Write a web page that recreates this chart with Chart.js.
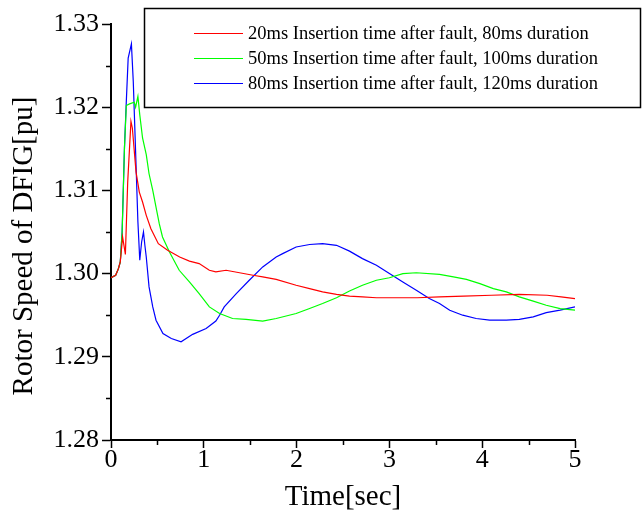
<!DOCTYPE html>
<html>
<head>
<meta charset="utf-8">
<script src="https://cdn.jsdelivr.net/npm/chart.js@4/dist/chart.umd.min.js"></script>
<style>
  html, body { margin: 0; padding: 0; background: #ffffff; }
  #wrap { width: 644px; height: 514px; }
</style>
</head>
<body>
<div id="wrap"><canvas id="c" width="644" height="514"></canvas></div>
<script>
// ---- data ----
const seriesLabels = [
  '20ms Insertion time after fault, 80ms duration',
  '50ms Insertion time after fault, 100ms duration',
  '80ms Insertion time after fault, 120ms duration'
];
const xTitle = 'Time[sec]';
const yTitle = 'Rotor Speed of DFIG[pu]';
const xTicks = [0, 1, 2, 3, 4, 5];
const xMinorTicks = [0.5, 1.5, 2.5, 3.5, 4.5];
const yTicks = [1.28, 1.29, 1.30, 1.31, 1.32, 1.33];
const yMinorTicks = [1.285, 1.295, 1.305, 1.315, 1.325];

const redTime = [0, 0.05, 0.08, 0.10, 0.125, 0.155, 0.18, 0.215, 0.23, 0.27, 0.305, 0.34, 0.38, 0.43, 0.51, 0.61, 0.74, 0.845, 0.95, 1.06, 1.13, 1.24, 1.385, 1.53, 1.635, 1.78, 1.995, 2.14, 2.28, 2.43, 2.57, 2.71, 2.86, 3.0, 3.3, 3.54, 3.8, 4.1, 4.4, 4.7, 4.85, 5.0];
const redSpeed = [1.2995, 1.2998, 1.3006, 1.3014, 1.3044, 1.3023, 1.3110, 1.3183, 1.3175, 1.3122, 1.3098, 1.3086, 1.3070, 1.3054, 1.3036, 1.3028, 1.3020, 1.3015, 1.3012, 1.3004, 1.3002, 1.3004, 1.3001, 1.2998, 1.2996, 1.2993, 1.2986, 1.2982, 1.2978, 1.2975, 1.2973, 1.2972, 1.2971, 1.2971, 1.2971, 1.2972, 1.2973, 1.2974, 1.2975, 1.2974, 1.2972, 1.2970];

const greenTime = [0, 0.05, 0.08, 0.10, 0.12, 0.145, 0.165, 0.20, 0.25, 0.265, 0.29, 0.31, 0.34, 0.38, 0.41, 0.45, 0.485, 0.52, 0.555, 0.63, 0.735, 0.845, 0.95, 1.06, 1.17, 1.31, 1.455, 1.635, 1.78, 1.995, 2.14, 2.28, 2.43, 2.57, 2.71, 2.86, 3.0, 3.145, 3.29, 3.54, 3.69, 3.83, 3.975, 4.12, 4.26, 4.40, 4.55, 4.69, 4.84, 5.0];
const greenSpeed = [1.2995, 1.2998, 1.3006, 1.3014, 1.3050, 1.3151, 1.3202, 1.3204, 1.3206, 1.3200, 1.3213, 1.3191, 1.3163, 1.3143, 1.3120, 1.3100, 1.3080, 1.3060, 1.3044, 1.3026, 1.3004, 1.2990, 1.2976, 1.2960, 1.2952, 1.2946, 1.2945, 1.2943, 1.2946, 1.2952, 1.2958, 1.2964, 1.2971, 1.2979, 1.2986, 1.2992, 1.2995, 1.3000, 1.3001, 1.2999, 1.2996, 1.2993, 1.2988, 1.2982, 1.2978, 1.2972, 1.2967, 1.2962, 1.2958, 1.2956];

const blueTime = [0, 0.05, 0.08, 0.10, 0.12, 0.145, 0.165, 0.185, 0.22, 0.24, 0.27, 0.29, 0.31, 0.33, 0.35, 0.365, 0.38, 0.41, 0.45, 0.485, 0.56, 0.65, 0.755, 0.88, 1.025, 1.13, 1.17, 1.22, 1.35, 1.49, 1.635, 1.78, 1.85, 1.995, 2.14, 2.28, 2.43, 2.57, 2.71, 2.86, 3.0, 3.145, 3.29, 3.43, 3.54, 3.65, 3.79, 3.935, 4.08, 4.26, 4.40, 4.55, 4.69, 4.84, 5.0];
const blueSpeed = [1.2995, 1.2998, 1.3006, 1.3014, 1.3050, 1.3151, 1.3207, 1.3259, 1.3276, 1.3231, 1.3130, 1.3062, 1.3016, 1.3038, 1.3050, 1.3034, 1.3020, 1.2984, 1.2960, 1.2944, 1.2928, 1.2922, 1.2918, 1.2927, 1.2934, 1.2943, 1.2950, 1.2960, 1.2976, 1.2992, 1.3008, 1.3020, 1.3024, 1.3032, 1.3035, 1.3036, 1.3034, 1.3027, 1.3018, 1.3010, 1.3000, 1.2990, 1.2980, 1.2970, 1.2964, 1.2956, 1.2950, 1.2946, 1.2944, 1.2944, 1.2945, 1.2948, 1.2953, 1.2956, 1.2960];

const seriesColors = ['#ff0000', '#00ff00', '#0000ff'];

// ---- build chart ----
const pairs = (xs, ys) => xs.map((x, i) => ({ x: x, y: ys[i] }));
const SERIF = "'Liberation Serif', 'Times New Roman', serif";

const minorTicksPlugin = {
  id: 'minorTicks',
  afterDraw(chart) {
    const ctx = chart.ctx;
    const xs = chart.scales.x, ys = chart.scales.y;
    ctx.save();
    ctx.strokeStyle = '#000';
    ctx.lineWidth = 1.5;
    ctx.beginPath();
    xMinorTicks.forEach(v => {
      const px = Math.round(xs.getPixelForValue(v)) + 0.5;
      ctx.moveTo(px, xs.top);
      ctx.lineTo(px, xs.top + 5);
    });
    yMinorTicks.forEach(v => {
      const py = Math.round(ys.getPixelForValue(v)) + 0.5;
      ctx.moveTo(ys.right, py);
      ctx.lineTo(ys.right - 5, py);
    });
    ctx.stroke();
    ctx.restore();
  }
};

const titlesPlugin = {
  id: 'axisTitles',
  afterDraw(chart) {
    const ctx = chart.ctx;
    const area = chart.chartArea;
    ctx.save();
    ctx.fillStyle = '#000';
    ctx.font = '29px ' + SERIF;
    ctx.textAlign = 'center';
    ctx.textBaseline = 'alphabetic';
    ctx.fillText(xTitle, (area.left + area.right) / 2, 505);
    ctx.translate(32, 246);
    ctx.rotate(-Math.PI / 2);
    ctx.fillText(yTitle, 0, 0);
    ctx.restore();
  }
};

const legendBoxPlugin = {
  id: 'legendBox',
  afterDraw(chart) {
    const ctx = chart.ctx;
    ctx.save();
    ctx.strokeStyle = '#000';
    ctx.lineWidth = 1.5;
    ctx.strokeRect(144.5, 8.5, 496, 99);
    ctx.font = '18.5px ' + SERIF;
    ctx.textAlign = 'left';
    ctx.textBaseline = 'middle';
    chart.data.datasets.forEach((ds, i) => {
      const y = 33 + i * 25;
      ctx.strokeStyle = ds.borderColor;
      ctx.lineWidth = 1.2;
      ctx.beginPath();
      ctx.moveTo(194, y + 0.5);
      ctx.lineTo(243, y + 0.5);
      ctx.stroke();
      ctx.fillStyle = '#000';
      ctx.fillText(ds.label, 248, y + 1);
    });
    ctx.restore();
  }
};

const datasets = [
  { label: seriesLabels[0], data: pairs(redTime, redSpeed), borderColor: seriesColors[0] },
  { label: seriesLabels[1], data: pairs(greenTime, greenSpeed), borderColor: seriesColors[1] },
  { label: seriesLabels[2], data: pairs(blueTime, blueSpeed), borderColor: seriesColors[2] }
].map(d => Object.assign(d, { borderWidth: 1.2, pointRadius: 0, tension: 0, fill: false }));

new Chart(document.getElementById('c'), {
  type: 'line',
  data: { datasets: datasets },
  options: {
    responsive: false,
    animation: false,
    devicePixelRatio: 1,
    layout: { padding: { left: 0, top: 24, right: 69, bottom: 0 } },
    plugins: { legend: { display: false }, tooltip: { enabled: false } },
    scales: {
      x: {
        type: 'linear',
        min: 0, max: 5,
        afterBuildTicks: s => { s.ticks = xTicks.map(v => ({ value: v })); },
        afterFit: s => { s.height = 74; },
        ticks: { color: '#000', font: { family: SERIF, size: 26 }, padding: -3, maxRotation: 0, callback: v => String(v) },
        grid: { drawOnChartArea: false, drawTicks: true, tickLength: 8, tickWidth: 1.5, tickColor: '#000' },
        border: { display: true, color: '#000', width: 2 }
      },
      y: {
        type: 'linear',
        min: 1.28, max: 1.33,
        afterBuildTicks: s => { s.ticks = yTicks.map(v => ({ value: v })); },
        afterFit: s => { s.width = 111; },
        ticks: { color: '#000', font: { family: SERIF, size: 26 }, padding: 3, callback: v => Number(v).toFixed(2) },
        grid: { drawOnChartArea: false, drawTicks: true, tickLength: 9, tickWidth: 1.5, tickColor: '#000' },
        border: { display: true, color: '#000', width: 2 }
      }
    }
  },
  plugins: [minorTicksPlugin, titlesPlugin, legendBoxPlugin]
});
</script>
</body>
</html>
